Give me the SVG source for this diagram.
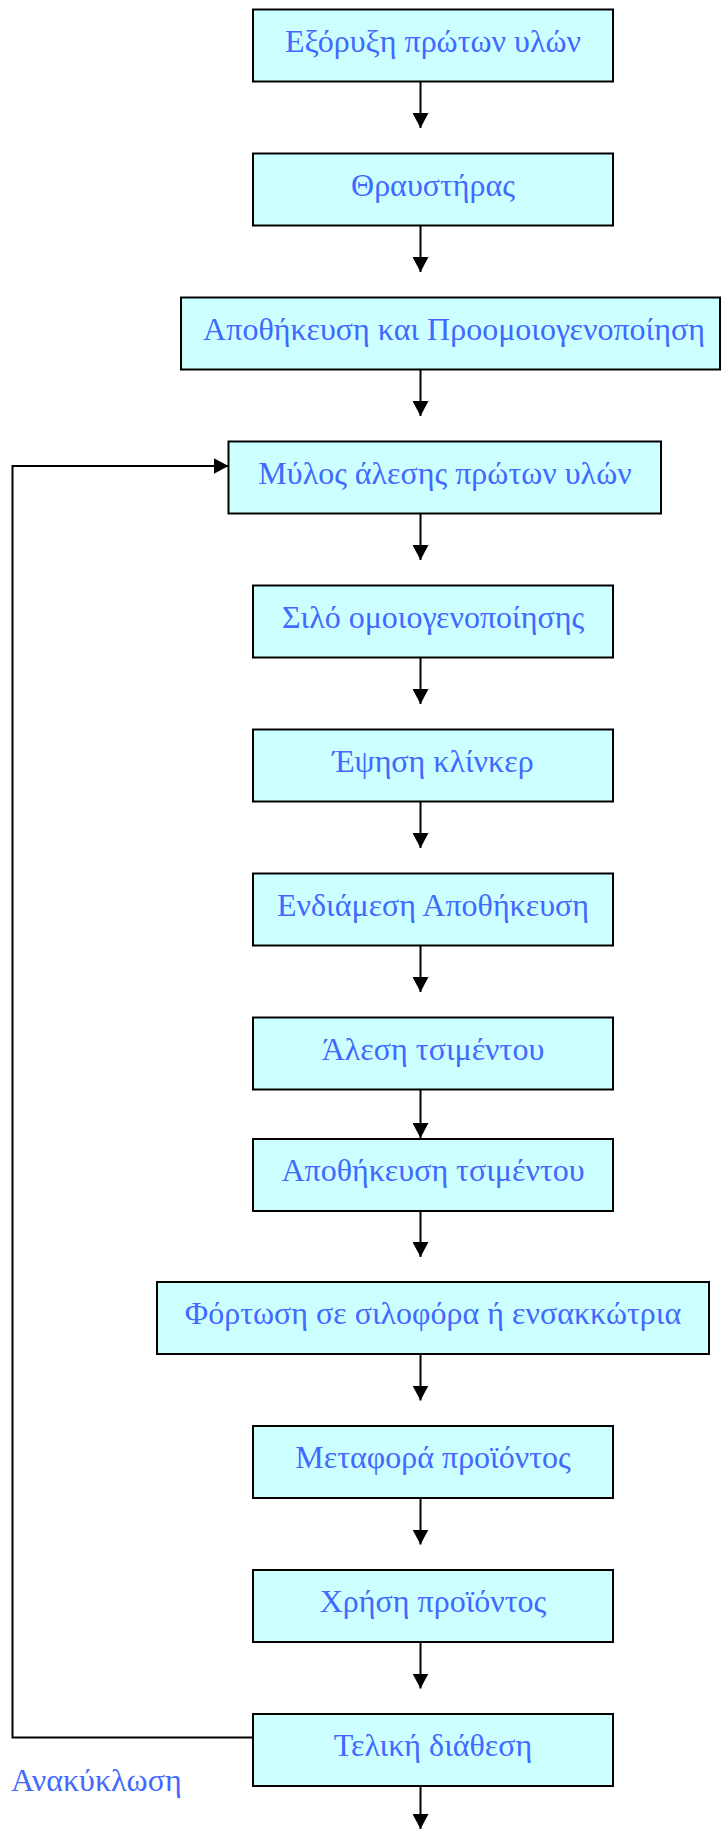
<svg xmlns="http://www.w3.org/2000/svg" width="721" height="1829" viewBox="0 0 721 1829">
  <style>
    .box { fill: #ccffff; stroke: #000000; stroke-width: 2; }
    .lbl { font-family: "Liberation Serif", "Times New Roman", serif; font-size: 32px; fill: #4169ff; text-anchor: middle; }
    .free { font-family: "Liberation Serif", "Times New Roman", serif; font-size: 32px; fill: #4169ff; }
    .wire { fill: none; stroke: #000000; stroke-width: 2; }
  </style>
  <defs>
    <marker id="head" markerUnits="userSpaceOnUse" markerWidth="15" markerHeight="16" refX="15" refY="8" orient="auto">
      <path d="M0,0 L15,8 L0,16 z" fill="#000000"/>
    </marker>
  </defs>
  <rect width="721" height="1829" fill="#ffffff"/>

  <!-- process steps -->
  <g id="n01"><rect class="box" x="253" y="9.5" width="360" height="72"/><text class="lbl" x="433" y="51.5">Εξόρυξη πρώτων υλών</text></g>
  <g id="n02"><rect class="box" x="253" y="153.5" width="360" height="72"/><text class="lbl" x="433" y="195.5">Θραυστήρας</text></g>
  <g id="n03"><rect class="box" x="181" y="297.5" width="539" height="72"/><text class="lbl" x="454" y="339.5">Αποθήκευση και Προομοιογενοποίηση</text></g>
  <g id="n04"><rect class="box" x="228.5" y="441.5" width="432.5" height="72"/><text class="lbl" x="445" y="483.5">Μύλος άλεσης πρώτων υλών</text></g>
  <g id="n05"><rect class="box" x="253" y="585.5" width="360" height="72"/><text class="lbl" x="433" y="627.5">Σιλό ομοιογενοποίησης</text></g>
  <g id="n06"><rect class="box" x="253" y="729.5" width="360" height="72"/><text class="lbl" x="433" y="771.5">Έψηση κλίνκερ</text></g>
  <g id="n07"><rect class="box" x="253" y="873.5" width="360" height="72"/><text class="lbl" x="433" y="915.5">Ενδιάμεση Αποθήκευση</text></g>
  <g id="n08"><rect class="box" x="253" y="1017.5" width="360" height="72"/><text class="lbl" x="433" y="1059.5">Άλεση τσιμέντου</text></g>
  <g id="n09"><rect class="box" x="253" y="1139" width="360" height="72"/><text class="lbl" x="433" y="1181">Αποθήκευση τσιμέντου</text></g>
  <g id="n10"><rect class="box" x="157" y="1282" width="552" height="72"/><text class="lbl" x="433" y="1324">Φόρτωση σε σιλοφόρα ή ενσακκώτρια</text></g>
  <g id="n11"><rect class="box" x="253" y="1426" width="360" height="72"/><text class="lbl" x="433" y="1468">Μεταφορά προϊόντος</text></g>
  <g id="n12"><rect class="box" x="253" y="1570" width="360" height="72"/><text class="lbl" x="433" y="1612">Χρήση προϊόντος</text></g>
  <g id="n13"><rect class="box" x="253" y="1714" width="360" height="72"/><text class="lbl" x="433" y="1756">Τελική διάθεση</text></g>

  <!-- return path label -->
  <text class="free" x="11" y="1791">Ανακύκλωση</text>

  <!-- connectors -->
  <g id="connectors">
    <line class="wire" x1="420.5" y1="81.5" x2="420.5" y2="128" marker-end="url(#head)"/>
    <line class="wire" x1="420.5" y1="225.5" x2="420.5" y2="272" marker-end="url(#head)"/>
    <line class="wire" x1="420.5" y1="369.5" x2="420.5" y2="416" marker-end="url(#head)"/>
    <line class="wire" x1="420.5" y1="513.5" x2="420.5" y2="560" marker-end="url(#head)"/>
    <line class="wire" x1="420.5" y1="657.5" x2="420.5" y2="704" marker-end="url(#head)"/>
    <line class="wire" x1="420.5" y1="801.5" x2="420.5" y2="848" marker-end="url(#head)"/>
    <line class="wire" x1="420.5" y1="945.5" x2="420.5" y2="992" marker-end="url(#head)"/>
    <line class="wire" x1="420.5" y1="1089.5" x2="420.5" y2="1138" marker-end="url(#head)"/>
    <line class="wire" x1="420.5" y1="1211" x2="420.5" y2="1257" marker-end="url(#head)"/>
    <line class="wire" x1="420.5" y1="1354" x2="420.5" y2="1400.5" marker-end="url(#head)"/>
    <line class="wire" x1="420.5" y1="1498" x2="420.5" y2="1544.5" marker-end="url(#head)"/>
    <line class="wire" x1="420.5" y1="1642" x2="420.5" y2="1688.5" marker-end="url(#head)"/>
    <line class="wire" x1="420.5" y1="1786" x2="420.5" y2="1829" marker-end="url(#head)"/>
    <!-- recycling loop back to the raw mill -->
    <polyline class="wire" points="253,1737.5 12.5,1737.5 12.5,466 228.5,466" marker-end="url(#head)"/>
  </g>
</svg>
